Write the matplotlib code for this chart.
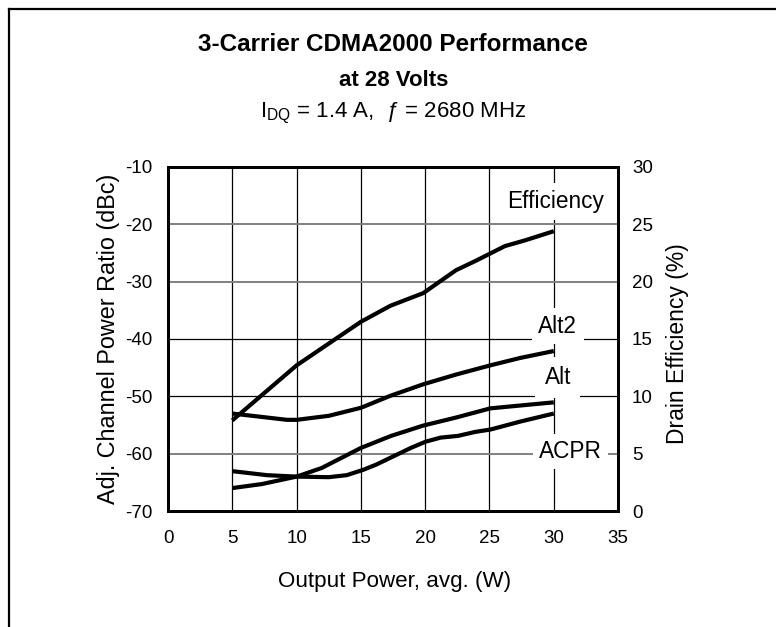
import matplotlib
matplotlib.use("Agg")
import matplotlib.pyplot as plt
from matplotlib.lines import Line2D

plt.rcParams['font.family'] = ['Liberation Sans', 'DejaVu Sans']
plt.rcParams['mathtext.fontset'] = 'custom'
plt.rcParams['mathtext.rm'] = 'Liberation Sans'
plt.rcParams['mathtext.it'] = 'Liberation Sans:italic'
plt.rcParams['axes.unicode_minus'] = False

# efficiency (right axis, %)
eff_x = [5.0, 10.0, 15.0, 17.3, 19.85, 22.4, 23.9, 26.2, 27.76, 30.0]
eff_y = [7.9, 12.7, 16.5, 17.9, 19.0, 21.0, 21.8, 23.1, 23.6, 24.4]

# adjacent channel ratios (left axis, dBc)
alt2_x = [5.0, 9.25, 10.0, 12.5, 15.0, 17.3, 19.85, 22.4, 25.06, 27.4, 30.0]
alt2_y = [-53.0, -54.1, -54.1, -53.4, -52.0, -49.9, -47.9, -46.2, -44.6, -43.3, -42.1]

alt_x = [5.0, 7.3, 10.0, 11.95, 15.0, 17.35, 19.85, 22.4, 25.06, 27.4, 30.0]
alt_y = [-66.0, -65.3, -64.0, -62.5, -59.0, -56.9, -55.1, -53.7, -52.1, -51.6, -51.05]

acpr_x = [5.0, 7.7, 10.0, 12.5, 13.9, 15.2, 16.2, 18.9, 20.05, 21.2, 22.55, 23.9, 25.06, 27.4, 30.0]
acpr_y = [-63.05, -63.75, -64.0, -64.1, -63.75, -62.8, -61.9, -58.98, -57.9, -57.2, -56.9,
          -56.2, -55.8, -54.4, -53.0]

x_ticks = [0, 5, 10, 15, 20, 25, 30, 35]
acpr_ticks = [-70, -60, -50, -40, -30, -20, -10]
eff_ticks = [0, 5, 10, 15, 20, 25, 30]

fig = plt.figure(figsize=(7.76, 6.27), dpi=100)
ax = fig.add_axes([0.2165, 0.185, 0.58, 0.5487])
ax2 = ax.twinx()

ax.set_xlim(0, 35)
ax.set_ylim(-70, -10)
ax2.set_ylim(0, 30)
ax.set_xticks(x_ticks)
ax.set_yticks(acpr_ticks)
ax2.set_yticks(eff_ticks)

# grid
for gx in x_ticks[1:-1]:
    ax.axvline(gx, color='black', lw=0.9, zorder=1)
for gy in acpr_ticks[1:-1]:
    light = gy in (-20, -30, -60)
    ax.axhline(gy, color='#808080' if light else 'black', lw=1.4 if light else 0.9, zorder=1)

lw = 3
ax.plot(alt2_x, alt2_y, color='black', lw=lw, zorder=4, solid_capstyle='butt')
ax.plot(alt_x, alt_y, color='black', lw=lw, zorder=4, solid_capstyle='butt')
ax.plot(acpr_x, acpr_y, color='black', lw=lw, zorder=4, solid_capstyle='butt')
ax2.plot(eff_x, eff_y, color='black', lw=lw, solid_capstyle='butt')

fs_lab = 16.3
ax.text(30.15, -16.1, 'Efficiency', fontsize=fs_lab, ha='center', va='center',
        bbox=dict(facecolor='white', edgecolor='none', pad=5), zorder=3)
ax.text(30.3, -37.8, 'Alt2', fontsize=fs_lab, ha='center', va='center',
        bbox=dict(facecolor='white', edgecolor='none', pad=4.7), zorder=3)
ax.text(30.3, -46.7, 'Alt', fontsize=fs_lab, ha='center', va='center',
        bbox=dict(facecolor='white', edgecolor='none', pad=6.5), zorder=3)
ax.text(31.3, -59.6, 'ACPR', fontsize=fs_lab, ha='center', va='center',
        bbox=dict(facecolor='white', edgecolor='none', pad=4), zorder=3)

for a in (ax, ax2):
    a.tick_params(length=0, labelsize=13.5)
    for s in a.spines.values():
        s.set_linewidth(2)
ax.tick_params(axis='y', pad=11.5)
ax2.tick_params(axis='y', pad=10)
ax.tick_params(axis='x', pad=14)

ax.set_xlabel('Output Power, avg. (W)', fontsize=16.1, va='center')
ax.xaxis.set_label_coords(0.504, -0.206)
ax.set_ylabel('Adj. Channel Power Ratio (dBc)', fontsize=16.8, va='center')
ax.yaxis.set_label_coords(-0.133, 0.5)
ax2.set_ylabel('Drain Efficiency (%)', fontsize=16.5, va='center')
ax2.yaxis.set_label_coords(1.133, 0.487)

fig.text(0.507, 1 - 51 / 627, '3-Carrier CDMA2000 Performance', fontsize=17.5,
         fontweight='bold', ha='center', va='baseline')
fig.text(0.507, 1 - 86 / 627, 'at 28 Volts', fontsize=16, fontweight='bold',
         ha='center', va='baseline')
fig.text(0.507, 1 - 117 / 627, r'I$_{\mathregular{DQ}}$ = 1.4 A,  ƒ = 2680 MHz', fontsize=16,
         ha='center', va='baseline')

# frame around the figure (left and top edges visible)
fig.add_artist(Line2D([0.0115, 0.0115], [0, 0.986], transform=fig.transFigure,
                      color='black', lw=1.6))
fig.add_artist(Line2D([0.0115, 1.0], [0.986, 0.986], transform=fig.transFigure,
                      color='black', lw=1.6))

fig.savefig('out.png', dpi=100)
